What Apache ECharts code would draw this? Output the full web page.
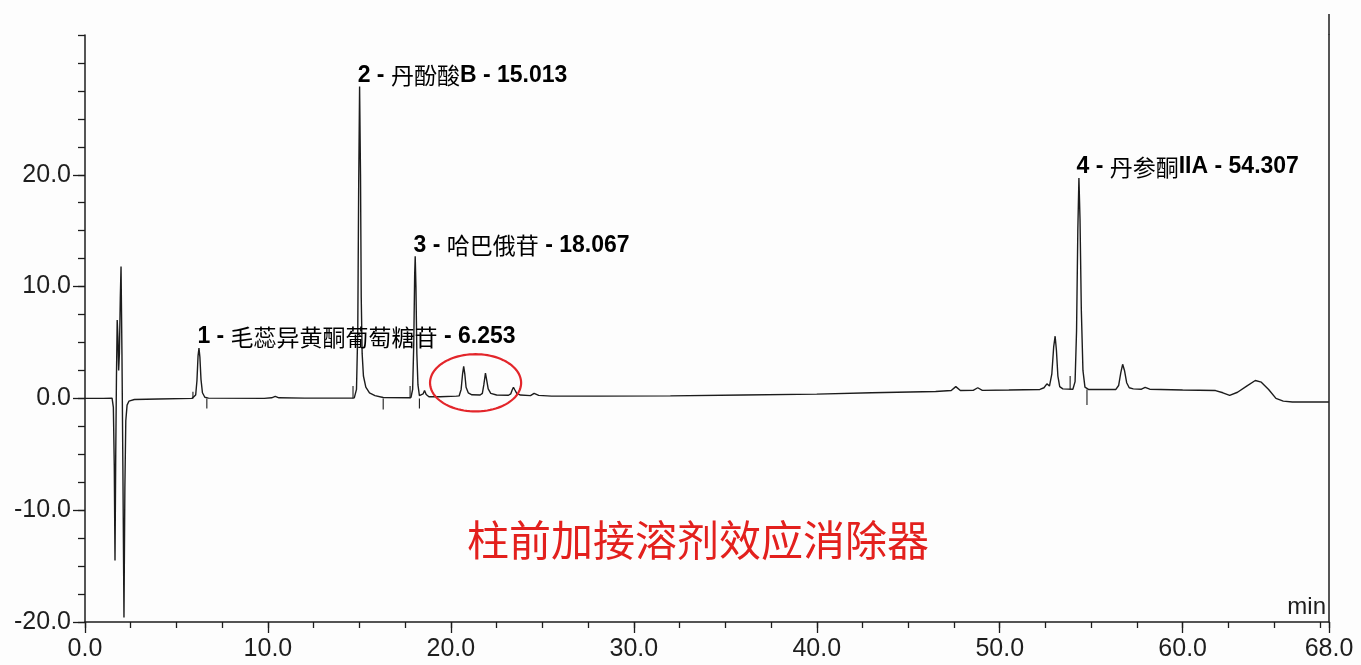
<!DOCTYPE html>
<html><head><meta charset="utf-8">
<script src="https://cdn.jsdelivr.net/npm/echarts@6/dist/echarts.min.js"></script>
<style>html,body{margin:0;padding:0;background:#fdfdfd}#c{width:1361px;height:665px}</style>
</head><body><div id="c"></div><script>
// ---- data (time in min, signal in mAU) ----
const injectionTrace = [[0,0],[1.0,0],[1.48,0.02],[1.55,-0.8],[1.6,-6],[1.64,-14.5],[1.68,-5],[1.72,2],[1.76,7.0],[1.8,5.5],[1.84,2.5],[1.88,4],[1.93,9],[1.97,11.8],[2.02,4],[2.07,-6],[2.13,-19.6],[2.18,-8],[2.23,-2.0],[2.3,-0.6],[2.4,-0.25],[2.7,-0.1],[4,-0.05],[5.85,0]];
const peak1Trace = [[5.95,0.02],[6.05,0.3],[6.12,1.6],[6.18,3.8],[6.23,4.5],[6.28,3.7],[6.34,1.7],[6.42,0.5],[6.55,0.1],[6.75,0.02],[9.8,0.0],[10.2,0.05],[10.4,0.18],[10.6,0.05],[12,0.02],[14.6,0.02]];
const peak2Trace = [[14.72,0.05],[14.84,0.8],[14.91,6],[14.96,19],[15.01,27.9],[15.06,20],[15.1,9],[15.15,4],[15.22,2],[15.35,1.0],[15.55,0.5],[15.85,0.25],[16.3,0.08],[17.7,0.05]];
const peak3Trace = [[17.82,0.1],[17.91,0.8],[17.97,4.8],[18.02,11],[18.05,12.7],[18.09,10],[18.14,4],[18.2,1.2],[18.28,0.25],[18.38,0.15],[18.48,0.4],[18.56,0.7],[18.65,0.35],[18.8,0.15],[19.4,0.15],[20.3,0.2]];
const circledTrace = [[20.45,0.22],[20.56,0.8],[20.64,2.2],[20.7,2.87],[20.76,2.2],[20.83,1.0],[20.95,0.5],[21.15,0.32],[21.6,0.3],[21.72,0.45],[21.8,1.2],[21.89,2.27],[21.96,1.6],[22.04,0.85],[22.18,0.45],[22.5,0.3],[23.15,0.28],[23.27,0.4],[23.35,0.75],[23.42,1.0],[23.5,0.75],[23.6,0.45],[23.8,0.3],[24.35,0.25],[24.55,0.45],[24.62,0.5],[24.8,0.27],[25.5,0.2]];
const midTrace = [[28,0.2],[32,0.22],[36,0.3],[40,0.38],[43,0.5],[46.5,0.62],[47.35,0.7],[47.6,1.05],[47.85,0.7],[48.55,0.72],[48.8,0.95],[49.05,0.72],[50.5,0.75],[52.2,0.8]];
const lateTrace = [[52.42,0.95],[52.58,1.3],[52.72,1.1],[52.85,2.2],[52.95,4.6],[53.03,5.56],[53.1,4.3],[53.18,2.0],[53.28,1.05],[53.45,0.85],[54.0,0.82],[54.12,1.5],[54.2,6],[54.27,15],[54.33,19.7],[54.39,16],[54.46,8],[54.55,2.5],[54.66,1.0],[54.85,0.8],[56.35,0.8],[56.5,1.15],[56.62,2.3],[56.72,3.05],[56.82,2.5],[56.94,1.4],[57.08,0.95],[57.3,0.85],[57.75,0.82],[57.95,0.98],[58.2,0.82],[60,0.75],[61.8,0.7],[62.2,0.5],[62.57,0.27],[63.0,0.55],[63.5,1.1],[63.97,1.6],[64.3,1.45],[64.7,0.8],[65.1,0.0],[65.5,-0.25],[66,-0.33],[68,-0.33]];
// integration event marks: [time, from, to]
const eventMarks = [[5.9,0,0.6],[6.66,0,-0.9],[14.65,0,1.1],[16.3,0,-1.0],[17.77,0,1.1],[18.28,0,-0.9],[53.85,0.8,2.0],[54.77,0.8,-0.6]];
// identified peaks
const peakNo = [1,2,3,4];
const peakName = ['毛蕊异黄酮葡萄糖苷','丹酚酸B','哈巴俄苷','丹参酮IIA'];
const peakRT = [6.253,15.013,18.067,54.307];
const peakTop = [4.5,27.9,12.7,19.7];
// highlighted region: [centre time, centre signal, half width (min), half height (mAU)]
const highlight = [[21.35,1.39,2.49,2.56]];
const noteText = '柱前加接溶剂效应消除器';
const xMin = 0, xMax = 68, yMin = -20, yMax = 32.5;
const yLabelValues = [-20,-10,0,10,20];

const trace = [].concat(injectionTrace, peak1Trace, peak2Trace, peak3Trace, circledTrace, midTrace, lateTrace);
const ink = '#1c1c1c';
const axisFont = {fontFamily:'Liberation Sans', fontSize:25, color:'#1e1e1e'};

const labelData = peakRT.map((t,i)=>{
  const m = peakName[i].match(/^([^\x00-\x7f]+)(.*)$/);
  return {value:[t, peakTop[i]], cjk:m[1], tail:m[2], no:peakNo[i]};
});

const chart = echarts.init(document.getElementById('c'));
chart.setOption({
  animation:false,
  backgroundColor:'#fdfdfd',
  grid:{left:85,right:32,top:35,bottom:43},
  xAxis:[
    {type:'value',min:xMin,max:xMax,interval:2.5,position:'bottom',
     axisLine:{onZero:false,lineStyle:{color:ink,width:1.5}},
     axisTick:{length:6,lineStyle:{color:ink,width:1.3}},
     axisLabel:{show:false},splitLine:{show:false},
     name:'min',nameLocation:'end',nameGap:-3,
     nameTextStyle:{fontFamily:'Liberation Sans',fontSize:24,color:'#1e1e1e',align:'right',verticalAlign:'bottom',padding:[0,0,3,0]}},
    {type:'value',min:xMin,max:xMax,interval:10,position:'bottom',
     axisLine:{show:false,onZero:false},
     axisTick:{length:11,lineStyle:{color:ink,width:1.3}},
     axisLabel:Object.assign({margin:15,formatter:v=>v.toFixed(1)},axisFont),
     splitLine:{show:false}}
  ],
  yAxis:[
    {type:'value',min:yMin,max:yMax,interval:2.5,position:'left',
     axisLine:{onZero:false,lineStyle:{color:ink,width:1.5}},
     axisTick:{length:7,lineStyle:{color:ink,width:1.3}},
     axisLabel:{show:false},splitLine:{show:false}},
    {type:'value',min:yMin,max:yMax,position:'left',
     axisLine:{show:false,onZero:false},
     axisTick:{customValues:yLabelValues,length:12,lineStyle:{color:ink,width:1.3}},
     axisLabel:Object.assign({customValues:yLabelValues,margin:14,formatter:v=>v.toFixed(1)},axisFont),
     splitLine:{show:false}},
    {type:'value',min:yMin,max:yMax,position:'right',
     axisLine:{onZero:false,lineStyle:{color:ink,width:1.5}},
     axisTick:{show:false},axisLabel:{show:false},splitLine:{show:false}}
  ],
  series:[
    {type:'line',data:trace,xAxisIndex:0,yAxisIndex:0,showSymbol:false,
     lineStyle:{color:ink,width:1.4},z:3},
    {type:'custom',xAxisIndex:0,yAxisIndex:0,data:eventMarks,encode:{x:0,y:[1,2]},
     renderItem:(p,api)=>{
       const a=api.coord([api.value(0),api.value(1)]), b=api.coord([api.value(0),api.value(2)]);
       return {type:'line',shape:{x1:a[0],y1:a[1],x2:b[0],y2:b[1]},style:{stroke:ink,lineWidth:1.1}};
     }},
    {type:'custom',xAxisIndex:0,yAxisIndex:0,data:highlight,encode:{x:0,y:1},
     renderItem:(p,api)=>{
       const c=api.coord([api.value(0),api.value(1)]);
       const s=api.size([api.value(2),api.value(3)]);
       const pts=[];
       for(let k=0;k<96;k++){const a=k/96*Math.PI*2;pts.push([c[0]+s[0]*Math.cos(a),c[1]+s[1]*Math.sin(a)]);}
       return {type:'polygon',shape:{points:pts},style:{fill:'none',stroke:'#e3262b',lineWidth:2.2}};
     },z:4},
    {type:'scatter',xAxisIndex:0,yAxisIndex:0,data:labelData,symbolSize:1,
     itemStyle:{color:'rgba(0,0,0,0)'},
     label:{show:true,position:'top',align:'left',distance:0,offset:[-2,1],color:'#000',opacity:1,
       formatter:p=>`{n|${p.data.no} - }{c|${p.data.cjk}}{n|${p.data.tail} - ${p.data.value[0].toFixed(3)}}`,
       rich:{
         n:{fontFamily:'Liberation Sans',fontWeight:'bold',fontSize:23,color:'#000',opacity:1},
         c:{fontFamily:'Noto Sans CJK SC',fontWeight:'normal',fontSize:23,color:'#000',opacity:1}
       }},
     emphasis:{disabled:true},
     z:5}
  ]
});
// extend right frame line above the plot, as in the original print
const px = chart.convertToPixel({xAxisIndex:0}, xMax);
const topPx = chart.convertToPixel({yAxisIndex:0}, yMax);
chart.setOption({graphic:[
  {type:'text',left:467,top:519,style:{text:noteText,font:'42px "Noto Sans CJK SC"',fill:'#e3201d'}},
  {type:'line',shape:{x1:px,y1:14,x2:px,y2:topPx},style:{stroke:ink,lineWidth:1.5}}
]});
</script></body></html>
